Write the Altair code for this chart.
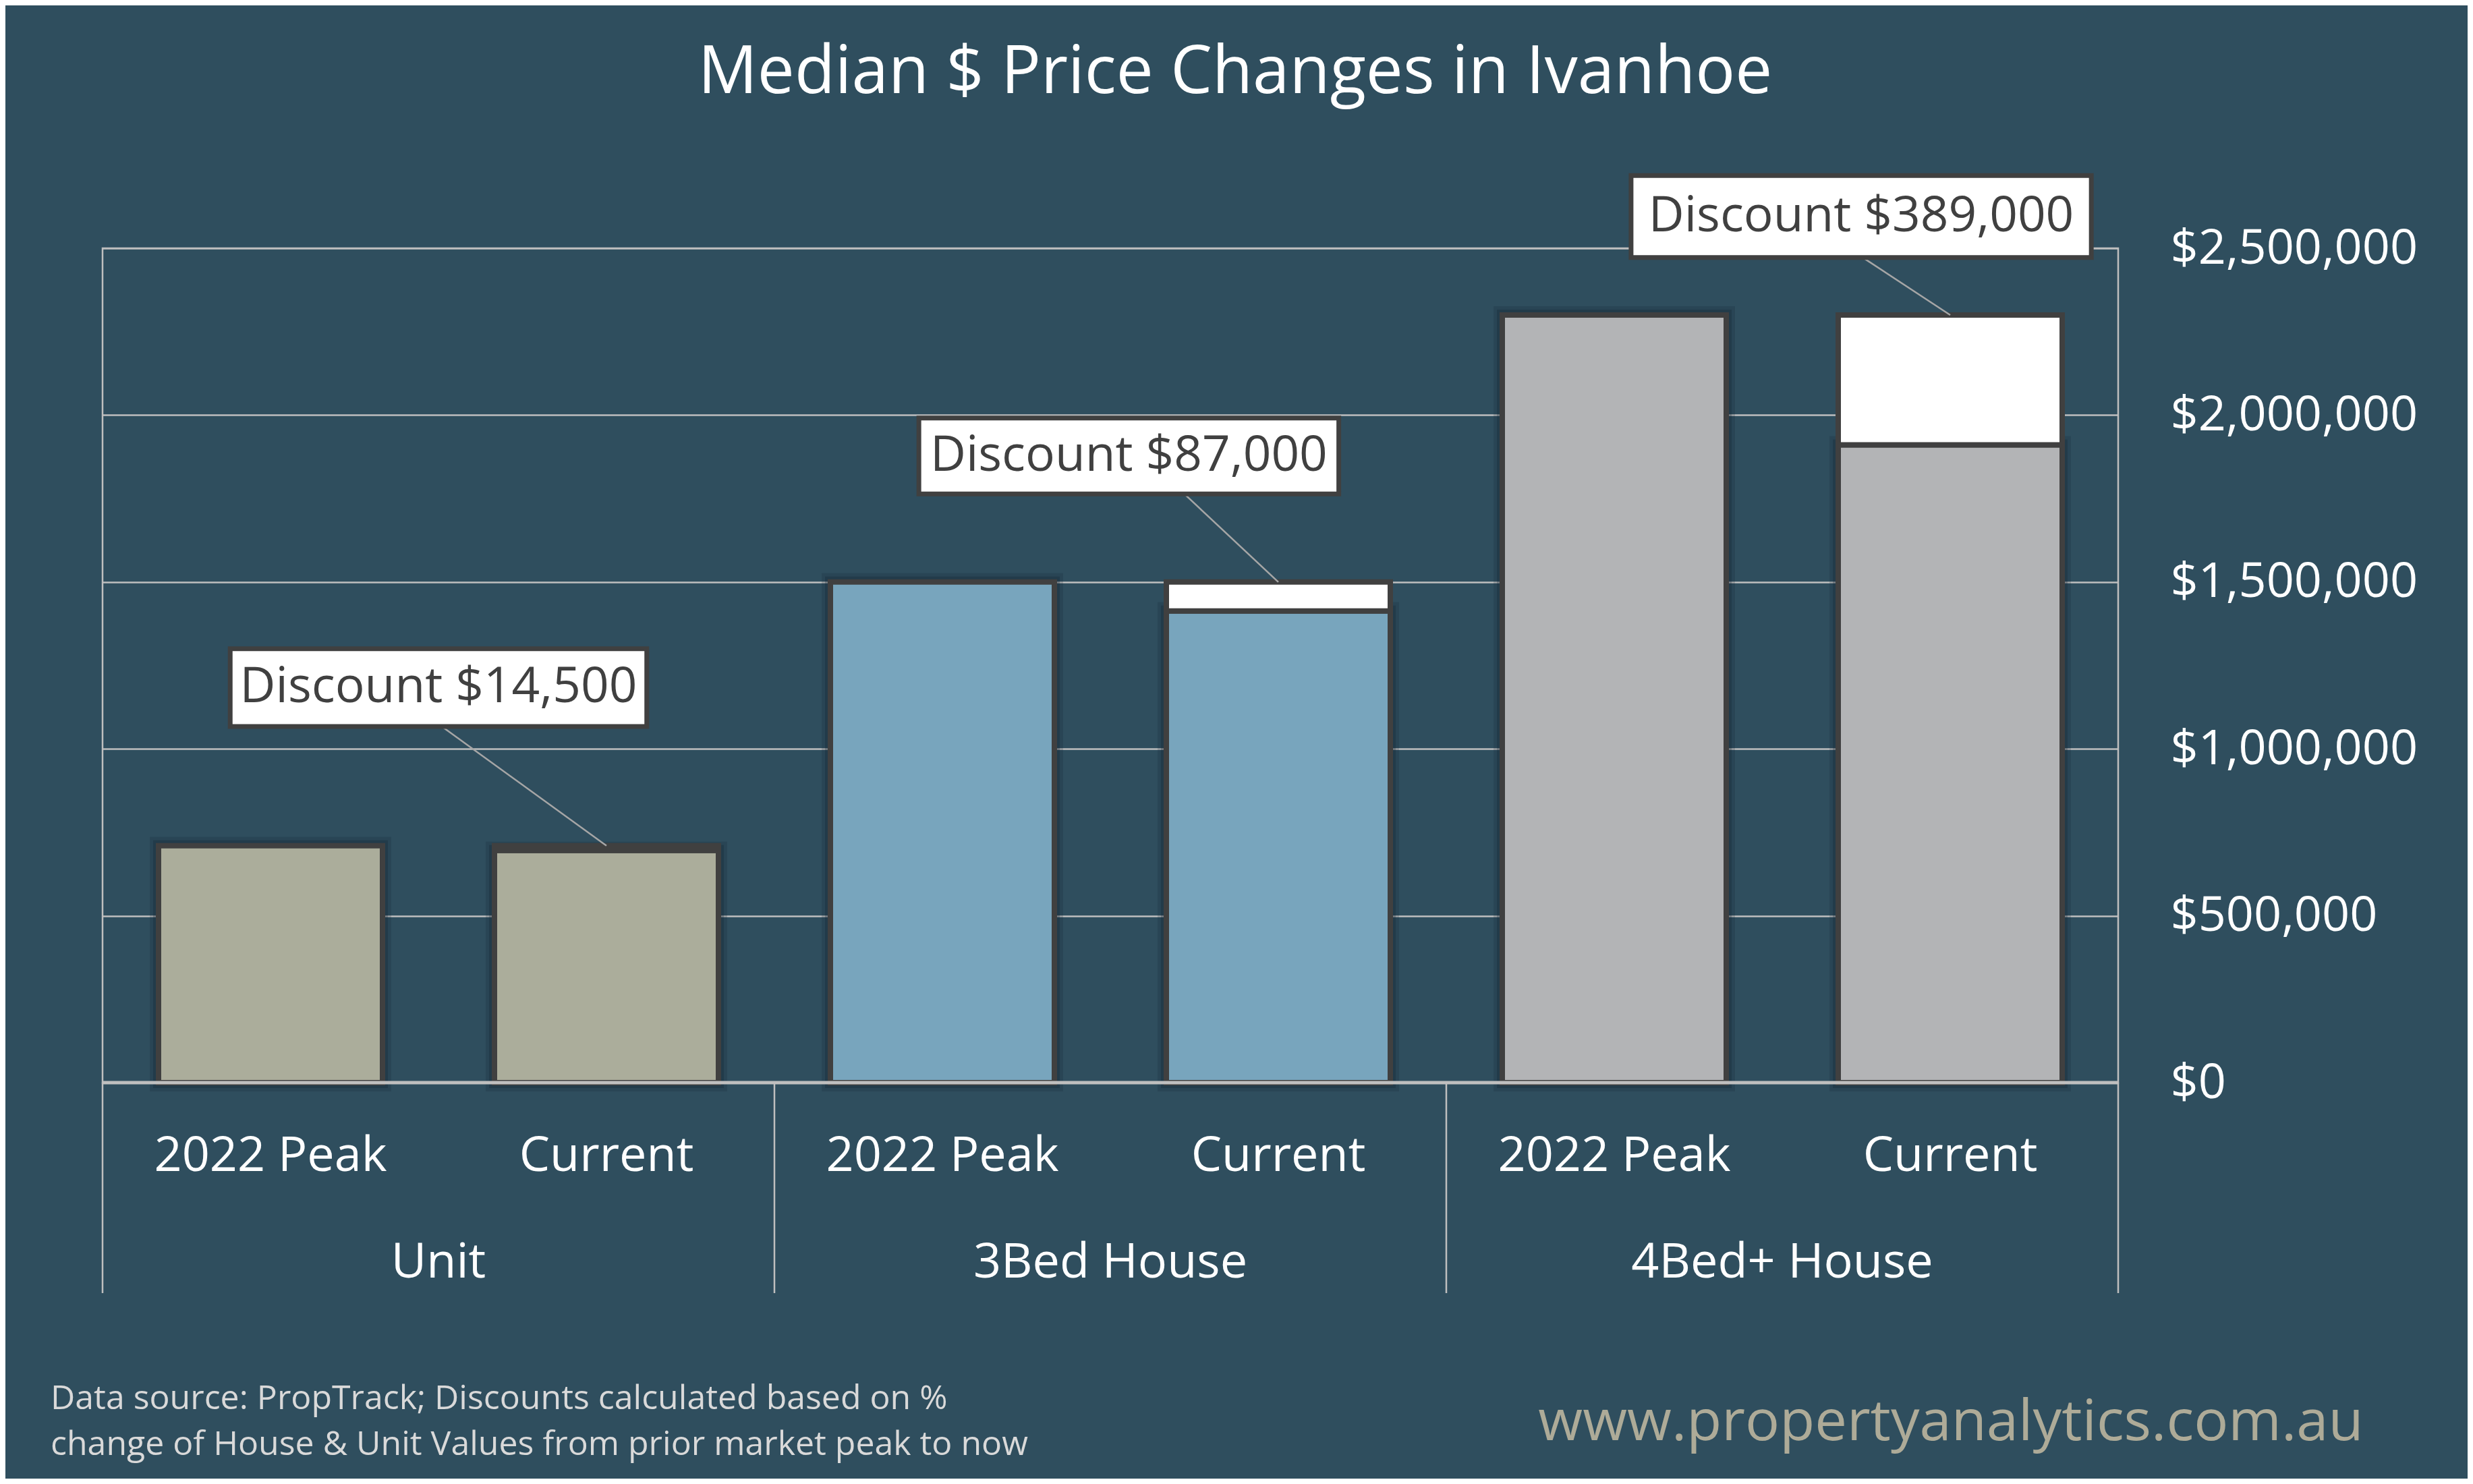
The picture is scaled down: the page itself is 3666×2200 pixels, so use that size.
import altair as alt
import pandas as pd

# ---------------- data ----------------
title_text = "Median $ Price Changes in Ivanhoe"
groups = ["Unit", "3Bed House", "4Bed+ House"]
bar_labels = ["2022 Peak", "Current"]
peak_values = [710000, 1500000, 2300000]
discounts = [14500, 87000, 389000]
group_colors = ["#abad9b", "#78a5bd", "#b3b4b6"]

annot_text = ["Discount $14,500", "Discount $87,000", "Discount $389,000"]
# annotation boxes in data units (x in bar slots, y in $)
annot_x0 = [0.38, 2.43, 4.55]
annot_x1 = [1.62, 3.68, 5.92]
annot_y0 = [1067000, 1764000, 2472000]
annot_y1 = [1300000, 1991000, 2718000]
leader_x = [1.01, 3.22, 5.24]

y_ticks = [0, 500000, 1000000, 1500000, 2000000, 2500000]
group_bounds = [0, 2, 4, 6]
source_lines = ["Data source: PropTrack; Discounts calculated based on %",
                "change of House & Unit Values from prior market peak to now"]
website = "www.propertyanalytics.com.au"

FONT = "Open Sans"
BORDER = "#404040"
GRID = "#bfbfbf"
BG = "#2f4e5e"

# ---------------- tables ----------------
bar_rows = []
for gi, g in enumerate(groups):
    for bi, lab in enumerate(bar_labels):
        val = peak_values[gi] if bi == 0 else peak_values[gi] - discounts[gi]
        bar_rows.append({"slot": 2 * gi + bi, "group": g, "label": lab,
                         "value": val, "color": group_colors[gi]})
bars_df = pd.DataFrame(bar_rows)

disc_df = pd.DataFrame({
    "slot": [2 * gi + 1 for gi in range(len(groups))],
    "low": [p - d for p, d in zip(peak_values, discounts)],
    "high": peak_values,
})

annot_df = pd.DataFrame({
    "text": annot_text, "x0": annot_x0, "x1": annot_x1,
    "y0": annot_y0, "y1": annot_y1, "lx": leader_x,
    "bx": [2 * gi + 1.5 for gi in range(len(groups))],
    "by": peak_values,
})

group_df = pd.DataFrame({"group": groups, "gi": list(range(len(groups)))})
bounds_df = pd.DataFrame({"b": group_bounds})

# ---------------- scales ----------------
xs = alt.Scale(domain=[0, 6], nice=False, zero=False)
ys = alt.Scale(domain=[0, 2500000], nice=False, zero=True)
yaxis = alt.Axis(orient="right", values=y_ticks, format="$,.0f", title=None,
                 labelFontSize=72, labelColor="white", labelFont=FONT,
                 labelPadding=77, labelAlign="left", labelBaseline="middle",
                 labelLimit=0, ticks=False, domain=False, grid=True,
                 gridColor=GRID, gridWidth=2.5)

def X(f):
    return alt.X(f, scale=xs, axis=None)

def Y(f):
    return alt.Y(f, scale=ys, axis=yaxis)

base_bars = alt.Chart(bars_df).transform_calculate(
    x0="datum.slot + 1/6", x1="datum.slot + 5/6", zero="0"
)

shadow1 = base_bars.mark_rect(fillOpacity=0, stroke="#10202a", strokeOpacity=0.18,
                              strokeWidth=26).encode(
    x=X("x0:Q"), x2="x1:Q", y=Y("value:Q"), y2="zero:Q")
shadow2 = base_bars.mark_rect(fillOpacity=0, stroke="#10202a", strokeOpacity=0.25,
                              strokeWidth=16).encode(
    x=X("x0:Q"), x2="x1:Q", y=Y("value:Q"), y2="zero:Q")

bars = base_bars.mark_rect(stroke=BORDER, strokeWidth=8).encode(
    x=X("x0:Q"), x2="x1:Q", y=Y("value:Q"), y2="zero:Q",
    color=alt.Color("color:N", scale=None),
)

disc = alt.Chart(disc_df).transform_calculate(
    x0="datum.slot + 1/6", x1="datum.slot + 5/6"
).mark_rect(fill="white", stroke=BORDER, strokeWidth=8).encode(
    x=X("x0:Q"), x2="x1:Q", y=Y("low:Q"), y2="high:Q")

zero_rule = alt.Chart(alt.Data(values=[{}])).mark_rule(
    color=GRID, strokeWidth=5).encode(y=alt.Y(datum=0, scale=ys, axis=yaxis))

bound_rules = alt.Chart(bounds_df).mark_rule(color=GRID, strokeWidth=2.5).encode(
    x=X("b:Q"), y=alt.value(1237), y2=alt.value(1549))

bar_text = base_bars.transform_calculate(xc="datum.slot + 0.5").mark_text(
    font=FONT, fontSize=72, color="white", baseline="alphabetic", align="center"
).encode(x=X("xc:Q"), y=alt.value(1368), text="label:N")

group_text = alt.Chart(group_df).transform_calculate(xc="2*datum.gi + 1").mark_text(
    font=FONT, fontSize=72, color="white", baseline="alphabetic", align="center"
).encode(x=X("xc:Q"), y=alt.value(1526), text="group:N")

leaders = alt.Chart(annot_df).mark_rule(color="#a6a6a6", strokeWidth=2.5).encode(
    x=X("lx:Q"), x2="bx:Q", y=Y("y0:Q"), y2="by:Q")

boxes = alt.Chart(annot_df).mark_rect(fill="white", stroke=BORDER, strokeWidth=7).encode(
    x=X("x0:Q"), x2="x1:Q", y=Y("y0:Q"), y2="y1:Q")

box_text = alt.Chart(annot_df).transform_calculate(
    xc="(datum.x0 + datum.x1)/2", yc="(datum.y0 + datum.y1)/2"
).mark_text(font=FONT, fontSize=73, color=BORDER, baseline="middle", align="center"
).encode(x=X("xc:Q"), y=Y("yc:Q"), text="text:N")

one = alt.Data(values=[{}])
title = alt.Chart(one).mark_text(text=title_text, font=FONT, fontSize=98, color="white",
                                 align="center", baseline="alphabetic").encode(
    x=alt.value(1679), y=alt.value(-230))

source = alt.Chart(one).mark_text(text=source_lines, font=FONT, fontSize=50,
                                  color="#d9d9d9", align="left", baseline="alphabetic",
                                  lineHeight=68).encode(
    x=alt.value(-77), y=alt.value(1721))

site = alt.Chart(one).mark_text(text=website, font=FONT, fontSize=85, color="#aeab98",
                                align="center", baseline="alphabetic").encode(
    x=alt.value(2740), y=alt.value(1767))

chart = alt.layer(
    shadow1, shadow2, bars, disc, zero_rule, bound_rules, bar_text, group_text,
    leaders, boxes, box_text, title, source, site
).properties(
    width=2988, height=1237,
    padding={"left": 144, "top": 360, "right": 518, "bottom": 587},
    autosize=alt.AutoSizeParams(type="none"),
    background=BG,
).configure_view(stroke=GRID, strokeWidth=2.5)

chart.save("out.html", embed_options={"renderer": "svg", "actions": False})
